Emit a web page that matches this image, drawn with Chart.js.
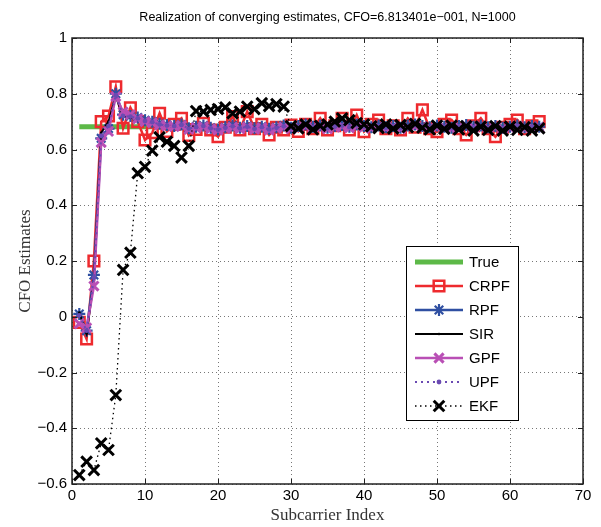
<!DOCTYPE html>
<html>
<head>
  <title>Realization of converging estimates</title>
  <script src="https://cdn.jsdelivr.net/npm/chart.js"></script>
  <style>
    html, body { margin: 0; padding: 0; background: #fff; }
  </style>
</head>
<body>
  <canvas id="myChart" width="601" height="527"></canvas>

  <script>
    // indices de subportadora (eje x)
    var subcarrier = [
       1,  2,  3,  4,  5,  6,  7,  8,
       9, 10, 11, 12, 13, 14, 15, 16,
      17, 18, 19, 20, 21, 22, 23, 24,
      25, 26, 27, 28, 29, 30, 31, 32,
      33, 34, 35, 36, 37, 38, 39, 40,
      41, 42, 43, 44, 45, 46, 47, 48,
      49, 50, 51, 52, 53, 54, 55, 56,
      57, 58, 59, 60, 61, 62, 63, 64
    ];

    // valor verdadero del CFO
    var trueX = [1, 64];
    var trueY = [0.6813401, 0.6813401];

    var crpf = [
      -0.02, -0.08, 0.20, 0.70, 0.72, 0.825, 0.676, 0.75,
      0.70, 0.634, 0.66, 0.73, 0.665, 0.69, 0.712, 0.65,
      0.672, 0.694, 0.67, 0.646, 0.68, 0.718, 0.67, 0.736,
      0.675, 0.69, 0.652, 0.68, 0.67, 0.688, 0.665, 0.69,
      0.675, 0.712, 0.67, 0.685, 0.712, 0.67, 0.724, 0.664,
      0.69, 0.706, 0.675, 0.685, 0.67, 0.712, 0.68, 0.742,
      0.675, 0.664, 0.69, 0.706, 0.675, 0.652, 0.685, 0.712,
      0.675, 0.646, 0.68, 0.69, 0.706, 0.675, 0.685, 0.70
    ];

    var rpf = [
      0.01, -0.05, 0.15, 0.64, 0.675, 0.80, 0.725, 0.72,
      0.715, 0.705, 0.70, 0.692, 0.688, 0.684, 0.690, 0.676,
      0.682, 0.686, 0.678, 0.672, 0.680, 0.686, 0.678, 0.684,
      0.676, 0.682, 0.674, 0.680, 0.686, 0.678, 0.684, 0.690,
      0.682, 0.686, 0.678, 0.684, 0.688, 0.682, 0.690, 0.684,
      0.680, 0.686, 0.680, 0.684, 0.678, 0.686, 0.690, 0.684,
      0.680, 0.686, 0.682, 0.678, 0.684, 0.688, 0.682, 0.686,
      0.680, 0.684, 0.678, 0.682, 0.686, 0.680, 0.684, 0.682
    ];

    var sir = [
      0.015, -0.06, 0.13, 0.66, 0.70, 0.79, 0.72, 0.715,
      0.71, 0.70, 0.695, 0.69, 0.685, 0.688, 0.684, 0.678,
      0.680, 0.684, 0.676, 0.674, 0.682, 0.684, 0.680, 0.682,
      0.678, 0.680, 0.676, 0.682, 0.684, 0.680, 0.686, 0.688,
      0.684, 0.684, 0.680, 0.686, 0.686, 0.684, 0.688, 0.682,
      0.682, 0.684, 0.682, 0.682, 0.680, 0.684, 0.688, 0.682,
      0.682, 0.684, 0.680, 0.680, 0.682, 0.686, 0.684, 0.684,
      0.682, 0.682, 0.680, 0.684, 0.684, 0.682, 0.682, 0.684
    ];

    var gpf = [
      -0.025, -0.04, 0.11, 0.625, 0.665, 0.79, 0.735, 0.725,
      0.71, 0.70, 0.696, 0.688, 0.684, 0.682, 0.686, 0.672,
      0.678, 0.682, 0.674, 0.670, 0.676, 0.680, 0.674, 0.680,
      0.672, 0.678, 0.670, 0.676, 0.680, 0.674, 0.680, 0.684,
      0.678, 0.680, 0.674, 0.680, 0.684, 0.678, 0.684, 0.680,
      0.676, 0.680, 0.676, 0.680, 0.674, 0.680, 0.684, 0.680,
      0.676, 0.680, 0.678, 0.674, 0.680, 0.684, 0.678, 0.680,
      0.676, 0.680, 0.674, 0.678, 0.682, 0.676, 0.680, 0.678
    ];

    var upf = [
      0.005, -0.05, 0.14, 0.65, 0.685, 0.795, 0.72, 0.718,
      0.712, 0.702, 0.698, 0.69, 0.686, 0.684, 0.688, 0.675,
      0.680, 0.684, 0.676, 0.671, 0.678, 0.683, 0.676, 0.682,
      0.674, 0.680, 0.672, 0.678, 0.683, 0.676, 0.682, 0.687,
      0.680, 0.683, 0.676, 0.682, 0.686, 0.680, 0.687, 0.682,
      0.678, 0.683, 0.678, 0.682, 0.676, 0.683, 0.687, 0.682,
      0.678, 0.683, 0.680, 0.676, 0.682, 0.686, 0.680, 0.683,
      0.678, 0.682, 0.676, 0.680, 0.684, 0.678, 0.682, 0.680
    ];

    var ekf = [
      -0.568, -0.52, -0.55, -0.454, -0.478, -0.281, 0.168, 0.23,
      0.515, 0.538, 0.596, 0.644, 0.628, 0.613, 0.571, 0.613,
      0.738, 0.736, 0.742, 0.745, 0.751, 0.73, 0.736, 0.754,
      0.745, 0.766, 0.756, 0.763, 0.754, 0.684, 0.676, 0.690,
      0.672, 0.685, 0.690, 0.700, 0.712, 0.705, 0.695, 0.690,
      0.683, 0.677, 0.690, 0.675, 0.688, 0.680, 0.692, 0.678,
      0.672, 0.686, 0.674, 0.686, 0.672, 0.684, 0.668, 0.682,
      0.670, 0.684, 0.668, 0.682, 0.670, 0.680, 0.668, 0.676
    ];

    function pts(xs, ys) {
      return xs.map(function (x, i) { return { x: x, y: ys[i] }; });
    }

    // marcador para la leyenda (misma forma que los puntos de Chart.js)
    function drawMarker(ctx, style, r, x, y) {
      var d = r * Math.SQRT1_2;
      ctx.beginPath();
      if (style === 'rect') {
        ctx.rect(x - d, y - d, 2 * d, 2 * d);
        ctx.stroke();
      } else if (style === 'circle') {
        ctx.arc(x, y, r, 0, 2 * Math.PI);
        ctx.fill();
      } else {
        ctx.moveTo(x - d, y - d); ctx.lineTo(x + d, y + d);
        ctx.moveTo(x - d, y + d); ctx.lineTo(x + d, y - d);
        if (style === 'star') {
          ctx.moveTo(x, y - r); ctx.lineTo(x, y + r);
          ctx.moveTo(x - r, y); ctx.lineTo(x + r, y);
        }
        ctx.stroke();
      }
    }

    // marco y marcas hacia dentro, estilo MATLAB
    var framePlugin = {
      id: 'frame',
      afterDatasetsDraw: function (chart) {
        var ctx = chart.ctx, a = chart.chartArea;
        var xs = chart.scales.x, ys = chart.scales.y;
        ctx.save();
        ctx.strokeStyle = '#222';
        ctx.lineWidth = 1;
        ctx.beginPath();
        xs.ticks.forEach(function (t) {
          var px = Math.round(xs.getPixelForValue(t.value)) + 0.5;
          ctx.moveTo(px, a.bottom); ctx.lineTo(px, a.bottom - 5);
          ctx.moveTo(px, a.top); ctx.lineTo(px, a.top + 5);
        });
        ys.ticks.forEach(function (t) {
          var py = Math.round(ys.getPixelForValue(t.value)) + 0.5;
          ctx.moveTo(a.left, py); ctx.lineTo(a.left + 5, py);
          ctx.moveTo(a.right, py); ctx.lineTo(a.right - 5, py);
        });
        ctx.stroke();
        ctx.lineWidth = 1.5;
        ctx.strokeRect(a.left, a.top, a.right - a.left, a.bottom - a.top);
        ctx.restore();
      }
    };

    // leyenda en recuadro dentro del area del grafico
    var legendPlugin = {
      id: 'boxLegend',
      afterDraw: function (chart) {
        var ctx = chart.ctx, a = chart.chartArea;
        var w = 112, h = 174;
        var left = a.right - 177, top = a.top + 208;
        ctx.save();
        ctx.fillStyle = '#fff';
        ctx.fillRect(left, top, w, h);
        ctx.strokeStyle = '#000';
        ctx.lineWidth = 1;
        ctx.strokeRect(left + 0.5, top + 0.5, w, h);
        chart.data.datasets.forEach(function (ds, i) {
          var y = top + 16 + i * 24;
          var x0 = left + 9, x1 = left + 57;
          ctx.setLineDash(ds.borderDash || []);
          ctx.strokeStyle = ds.borderColor;
          ctx.lineWidth = ds.borderWidth;
          ctx.beginPath();
          ctx.moveTo(x0, y); ctx.lineTo(x1, y);
          ctx.stroke();
          ctx.setLineDash([]);
          if (ds.pointRadius > 0) {
            ctx.fillStyle = ds.borderColor;
            ctx.lineWidth = ds.pointBorderWidth;
            drawMarker(ctx, ds.pointStyle, ds.pointRadius, (x0 + x1) / 2, y);
          }
          ctx.fillStyle = '#000';
          ctx.font = '15px "Liberation Sans", Arial, sans-serif';
          ctx.textBaseline = 'middle';
          ctx.fillText(ds.label, left + 63, y + 1);
        });
        ctx.restore();
      }
    };

    var tickFont = { family: '"Liberation Sans", Arial, sans-serif', size: 15 };
    var labelFont = { family: '"Liberation Serif", "Times New Roman", serif', size: 17 };

    var data = {
      datasets: [
        {
          label: 'True', data: pts(trueX, trueY),
          borderColor: '#5db948', borderWidth: 5, pointRadius: 0, order: 7
        },
        {
          label: 'CRPF', data: pts(subcarrier, crpf),
          borderColor: '#ee2a2e', borderWidth: 2.5,
          pointStyle: 'rect', pointRadius: 7.5, pointBorderWidth: 2.5,
          pointBackgroundColor: 'rgba(0,0,0,0)', order: 6
        },
        {
          label: 'RPF', data: pts(subcarrier, rpf),
          borderColor: '#2f4fa2', borderWidth: 2.5,
          pointStyle: 'star', pointRadius: 6, pointBorderWidth: 2.2, order: 5
        },
        {
          label: 'SIR', data: pts(subcarrier, sir),
          borderColor: '#000', backgroundColor: '#000', borderWidth: 2,
          pointStyle: 'circle', pointRadius: 1.3, pointBorderWidth: 0, order: 4
        },
        {
          label: 'GPF', data: pts(subcarrier, gpf),
          borderColor: '#b94fb5', borderWidth: 2.5,
          pointStyle: 'crossRot', pointRadius: 6.5, pointBorderWidth: 3, order: 3
        },
        {
          label: 'UPF', data: pts(subcarrier, upf),
          borderColor: '#6a4ab2', backgroundColor: '#6a4ab2', borderWidth: 2,
          borderDash: [2, 4],
          pointStyle: 'circle', pointRadius: 2.4, pointBorderWidth: 0, order: 2
        },
        {
          label: 'EKF', data: pts(subcarrier, ekf),
          borderColor: '#000', borderWidth: 1.3, borderDash: [1.5, 3.5],
          pointStyle: 'crossRot', pointRadius: 7.5, pointBorderWidth: 3, order: 1
        }
      ]
    };

    var options = {
      responsive: false,
      animation: false,
      events: [],
      showLine: true,
      layout: { padding: { left: 0, right: 18, top: 0, bottom: 0 } },
      elements: { line: { tension: 0, fill: false } },
      plugins: {
        legend: { display: false },
        tooltip: { enabled: false },
        title: {
          display: true,
          fullSize: false,
          text: 'Realization of converging estimates, CFO=6.813401e\u2212001, N=1000',
          color: '#000',
          font: { family: '"Liberation Sans", Arial, sans-serif', size: 12.5, weight: 'normal' },
          padding: { top: 10, bottom: 13 }
        }
      },
      scales: {
        x: {
          type: 'linear', min: 0, max: 70,
          ticks: { stepSize: 10, color: '#000', font: tickFont, padding: 3, maxRotation: 0 },
          grid: { color: '#777', lineWidth: 1, drawTicks: false },
          border: { display: false, dash: [1, 3] },
          title: { display: true, text: 'Subcarrier Index', color: '#333', font: labelFont, padding: { top: 0, bottom: 1 } },
          afterFit: function (scale) { scale.height = 43; }
        },
        y: {
          min: -0.6, max: 1,
          ticks: {
            stepSize: 0.2, color: '#000', font: tickFont, padding: 5,
            callback: function (v) {
              return (Math.round(v * 10) / 10).toString().replace('-', '\u2212');
            }
          },
          grid: { color: '#777', lineWidth: 1, drawTicks: false },
          border: { display: false, dash: [1, 3] },
          title: { display: true, text: 'CFO Estimates', color: '#333', font: labelFont, padding: { top: 15, bottom: 0 } },
          afterFit: function (scale) { scale.width = 72; }
        }
      }
    };

    var ctx = document.getElementById('myChart').getContext('2d');
    var myChart = new Chart(ctx, {
      type: 'scatter',
      data: data,
      options: options,
      plugins: [framePlugin, legendPlugin]
    });
  </script>
</body>
</html>
